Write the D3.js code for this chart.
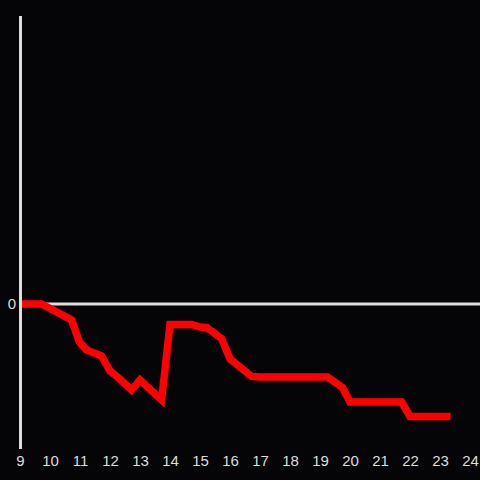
<!DOCTYPE html>
<html><head><meta charset="utf-8">
<script src="https://cdn.jsdelivr.net/npm/d3@7"></script>
<style>html,body{margin:0;padding:0;background:#050407;}svg{display:block;}</style>
</head><body>
<script>
const hours = [9.0, 9.72, 10.72, 10.98, 11.22, 11.72, 12.0, 12.22, 12.72, 13.0, 13.72, 14.0, 14.72, 15.0, 15.22, 15.72, 16.0, 16.72, 17.0, 19.25, 19.75, 20.0, 21.72, 22.0, 23.35];
const values = [0, 0, -0.111, -0.264, -0.319, -0.361, -0.465, -0.5, -0.597, -0.528, -0.667, -0.142, -0.142, -0.16, -0.163, -0.24, -0.382, -0.503, -0.507, -0.507, -0.58, -0.681, -0.681, -0.781, -0.781];
const xTicks = [9,10,11,12,13,14,15,16,17,18,19,20,21,22,23,24];
const yTicks = [0];

const W = 480, H = 480;
const svg = d3.select("body").append("svg").attr("width", W).attr("height", H);
svg.append("rect").attr("width", W).attr("height", H).attr("fill", "#050407");

const x = d3.scaleLinear().domain([9, 24]).range([20, 470]);
const y = d3.scaleLinear().domain([-1, 2]).range([448, 16]);
const data = hours.map((h, i) => ({h, v: values[i]}));

// zero line
svg.append("line").attr("x1", x(9)).attr("x2", 480).attr("y1", y(0)).attr("y2", y(0))
  .attr("stroke", "#dddddd").attr("stroke-width", 3);

// red line
svg.append("path").datum(data)
  .attr("d", d3.line().x(d => x(d.h)).y(d => y(d.v)))
  .attr("fill", "none").attr("stroke", "#ff0000").attr("stroke-width", 7.5)
  .attr("stroke-linejoin", "miter").attr("stroke-linecap", "butt");

// y axis
svg.append("line").attr("x1", 20.5).attr("x2", 20.5).attr("y1", 16).attr("y2", 449)
  .attr("stroke", "#dddddd").attr("stroke-width", 3);

// y tick labels
svg.selectAll("text.yt").data(yTicks).enter().append("text")
  .attr("x", 16).attr("y", d => y(d)).attr("dy", "0.35em").attr("text-anchor", "end")
  .attr("font-family", "Liberation Sans, Arial, sans-serif").attr("font-size", 15)
  .attr("fill", "#dddddd").text(d => d);

// x axis labels
const xa = svg.append("g").attr("transform", "translate(0,455)")
  .call(d3.axisBottom(x).tickValues(xTicks).tickSize(0).tickPadding(0).tickFormat(d3.format("d")));
xa.select(".domain").remove();
xa.selectAll("text").attr("font-family", "Liberation Sans, Arial, sans-serif").attr("font-size", 15)
  .attr("fill", "#dddddd").attr("dy", "0.71em");
</script>
</body></html>
